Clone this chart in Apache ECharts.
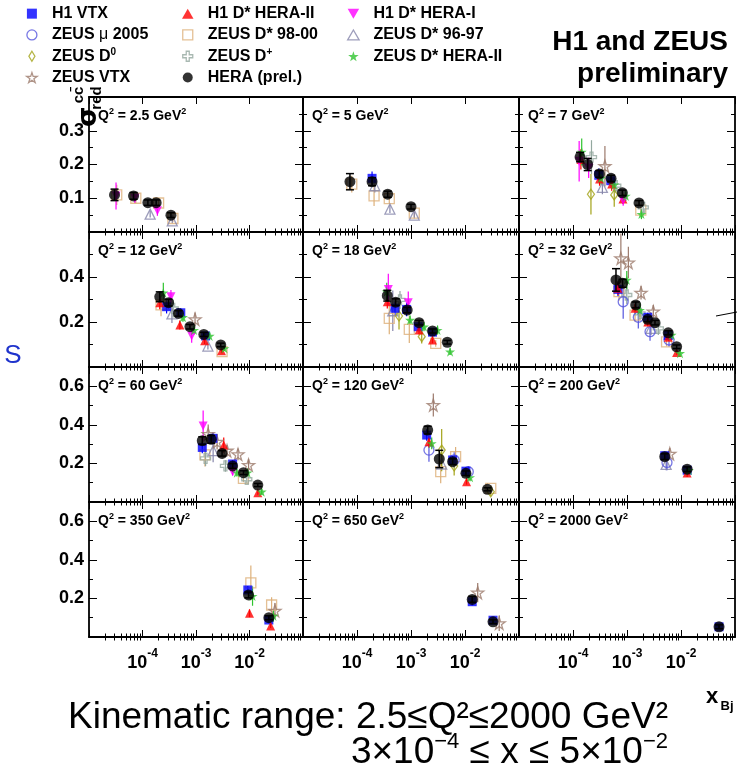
<!DOCTYPE html>
<html><head><meta charset="utf-8">
<script src="https://cdn.jsdelivr.net/npm/echarts@6/dist/echarts.min.js"></script>
<style>html,body{margin:0;padding:0;background:#fff}#c{width:737px;height:772px}</style>
</head><body><div id="c"></div>
<script>
// ---------------- DATA ----------------
// Q2 bins (GeV^2), one panel each
const Q2_BINS = [2.5, 5, 7, 12, 18, 32, 60, 120, 200, 350, 650, 2000];
// x-axis decade labels (exponents)
const X_LABEL_EXP = [-4, -3, -2];
// each point: [Q2, x_Bj, sigma_red, error]
const HERA_PREL = [
  [2.5,3.0e-5,0.110,0.017],[2.5,6.8e-5,0.107,0.010],[2.5,1.26e-4,0.087,0.008],[2.5,1.8e-4,0.087,0.008],[2.5,3.4e-4,0.050,0.007],
  [5,7.4e-5,0.149,0.024],[5,1.9e-4,0.149,0.012],[5,3.7e-4,0.112,0.009],[5,1.0e-3,0.075,0.007],
  [7,1.35e-4,0.222,0.014],[7,1.87e-4,0.200,0.018],[7,3.07e-4,0.172,0.010],[7,5.06e-4,0.159,0.009],[7,8.2e-4,0.116,0.008],[7,1.67e-3,0.086,0.007],
  [12,2.1e-4,0.312,0.022],[12,3.07e-4,0.286,0.015],[12,4.7e-4,0.238,0.012],[12,7.7e-4,0.179,0.010],[12,1.4e-3,0.145,0.009],[12,2.9e-3,0.098,0.008],
  [18,3.64e-4,0.317,0.024],[18,5.2e-4,0.288,0.015],[18,8.5e-4,0.253,0.012],[18,1.41e-3,0.197,0.010],[18,2.5e-3,0.160,0.009],[18,4.7e-3,0.110,0.008],
  [32,6.25e-4,0.387,0.050],[32,8.3e-4,0.372,0.018],[32,1.45e-3,0.276,0.013],[32,2.42e-3,0.212,0.011],[32,3.3e-3,0.197,0.010],[32,5.8e-3,0.152,0.009],[32,8.3e-3,0.090,0.008],
  [60,1.31e-3,0.318,0.020],[60,1.92e-3,0.325,0.020],[60,3.07e-3,0.252,0.014],[60,4.84e-3,0.187,0.012],[60,7.7e-3,0.152,0.010],[60,1.43e-2,0.088,0.008],
  [120,2.04e-3,0.373,0.020],[120,3.34e-3,0.223,0.045],[120,5.9e-3,0.209,0.015],[120,1.04e-2,0.149,0.012],[120,2.6e-2,0.066,0.008],
  [200,5.0e-3,0.235,0.015],[200,1.3e-2,0.170,0.012],
  [350,9.6e-3,0.218,0.015],[350,2.3e-2,0.100,0.010],
  [650,1.36e-2,0.195,0.015],[650,3.3e-2,0.079,0.010],
  [2000,5.06e-2,0.053,0.010]
];
const H1_VTX = [
  [5,1.9e-4,0.159,0.02],[7,3.0e-4,0.168,0.02],[7,5.0e-4,0.152,0.015],
  [12,2.82e-4,0.268,0.03],[12,5.2e-4,0.241,0.02],[12,1.51e-3,0.138,0.015],
  [18,5.06e-4,0.261,0.03],[18,8.3e-4,0.256,0.03],[18,1.36e-3,0.179,0.02],[18,2.5e-3,0.155,0.015],
  [32,6.8e-4,0.345,0.03],[32,2.42e-3,0.221,0.02],[32,5.8e-3,0.140,0.015],
  [60,1.31e-3,0.283,0.03],[60,2.07e-3,0.330,0.03],[60,4.84e-3,0.197,0.02],
  [120,1.95e-3,0.347,0.03],[120,5.9e-3,0.218,0.02],[120,1.04e-2,0.160,0.02],
  [200,5.0e-3,0.240,0.02],[200,1.3e-2,0.165,0.02],
  [350,9.3e-3,0.244,0.02],[350,2.3e-2,0.088,0.015],
  [650,1.36e-2,0.183,0.02],[650,3.3e-2,0.087,0.015],
  [2000,5.06e-2,0.053,0.01]
];
const ZEUS_MU_2005 = [
  [32,8.5e-4,0.290,0.075],[32,1.62e-3,0.221,0.05],[32,2.67e-3,0.157,0.04],[32,6.0e-3,0.120,0.03],
  [120,2.15e-3,0.269,0.06],[120,6.3e-3,0.218,0.04],[120,1.15e-2,0.157,0.03],
  [200,5.5e-3,0.205,0.04]
];
const ZEUS_D0 = [
  [7,2.15e-4,0.112,0.06],[7,5.8e-4,0.110,0.035],
  [18,6.0e-4,0.227,0.06],[18,1.58e-3,0.135,0.03],
  [120,3.7e-3,0.269,0.11],[120,6.3e-3,0.187,0.05],[120,3.0e-2,0.053,0.02]
];
const ZEUS_VTX = [
  [7,3.9e-4,0.195,0.06],[12,9.6e-4,0.212,0.03],
  [32,7.7e-4,0.483,0.11],[32,1.06e-3,0.464,0.07],[32,1.82e-3,0.330,0.03],[32,3.07e-3,0.246,0.03],
  [60,1.69e-3,0.352,0.05],[60,2.48e-3,0.312,0.04],[60,3.8e-3,0.266,0.03],[60,6.1e-3,0.247,0.03],[60,9.6e-3,0.192,0.03],
  [120,2.59e-3,0.503,0.06],
  [200,6.2e-3,0.250,0.03],
  [350,2.99e-2,0.136,0.04],
  [650,1.72e-2,0.230,0.05],[650,4.3e-2,0.071,0.04]
];
const H1_DSTAR_HERA2 = [
  [7,1.4e-4,0.215,0.03],[7,3.1e-4,0.157,0.02],[7,5.2e-4,0.142,0.02],[7,8.4e-4,0.098,0.015],
  [12,2.1e-4,0.286,0.03],[12,4.99e-4,0.187,0.02],[12,1.45e-3,0.117,0.015],[12,3.0e-3,0.072,0.01],
  [18,3.64e-4,0.290,0.03],[18,1.41e-3,0.164,0.02],[18,2.5e-3,0.120,0.015],
  [32,6.8e-4,0.350,0.03],[32,1.41e-3,0.261,0.02],[32,2.42e-3,0.200,0.02],[32,5.8e-3,0.132,0.015],[32,8.3e-3,0.064,0.01],
  [60,3.3e-3,0.295,0.04],[60,1.43e-2,0.048,0.01],
  [120,2.15e-3,0.312,0.03],[120,1.07e-2,0.105,0.015],
  [200,1.3e-2,0.150,0.02],
  [350,1.0e-2,0.123,0.02],[350,2.48e-2,0.057,0.01]
];
const ZEUS_DSTAR_9800 = [
  [2.5,3.3e-5,0.110,0.03],[2.5,7.5e-5,0.100,0.015],[2.5,2.0e-4,0.086,0.01],[2.5,3.7e-4,0.040,0.01],
  [5,8.0e-5,0.142,0.025],[5,2.07e-4,0.107,0.03],[5,3.96e-4,0.099,0.015],[5,1.15e-3,0.056,0.012],
  [7,1.8e-3,0.065,0.01],
  [12,2.22e-4,0.276,0.05],[12,3.07e-3,0.068,0.01],
  [18,3.96e-4,0.216,0.07],[18,9.3e-4,0.167,0.06],[18,2.87e-3,0.105,0.015],
  [32,7.1e-4,0.335,0.04],[32,1.41e-3,0.231,0.03],[32,5.4e-3,0.112,0.02],
  [60,1.47e-3,0.244,0.06],[60,7.7e-3,0.123,0.02],
  [120,3.55e-3,0.157,0.06],[120,6.7e-3,0.235,0.05],[120,3.0e-2,0.071,0.015],
  [350,1.06e-2,0.281,0.09],[350,2.59e-2,0.166,0.04]
];
const ZEUS_DPLUS = [
  [7,2.2e-4,0.222,0.05],[7,6.2e-4,0.137,0.02],[7,2.0e-3,0.073,0.015],
  [12,3.75e-4,0.260,0.04],
  [18,6.25e-4,0.298,0.04],
  [32,9.9e-4,0.320,0.04],[32,1.74e-3,0.238,0.03],[32,3.8e-3,0.172,0.03],
  [60,1.51e-3,0.226,0.04],[60,3.55e-3,0.187,0.03],[60,8.9e-3,0.118,0.02]
];
const H1_DSTAR_HERA1 = [
  [2.5,3.2e-5,0.107,0.04],[2.5,7.2e-5,0.100,0.015],[2.5,1.9e-4,0.063,0.015],
  [7,1.3e-4,0.210,0.06],[7,1.95e-4,0.190,0.03],[7,8.5e-4,0.093,0.015],
  [12,3.4e-4,0.312,0.03],[12,8.3e-4,0.138,0.03],
  [18,3.8e-4,0.345,0.07],[18,8.9e-4,0.286,0.05],
  [60,1.36e-3,0.394,0.08],[60,4.84e-3,0.157,0.02]
];
const ZEUS_DSTAR_9697 = [
  [2.5,1.39e-4,0.053,0.01],[2.5,3.6e-4,0.033,0.008],
  [5,2.14e-4,0.137,0.02],[5,4.07e-4,0.068,0.012],[5,1.15e-3,0.050,0.01],
  [7,3.5e-4,0.132,0.02],
  [12,3.55e-4,0.236,0.04],[12,1.67e-3,0.093,0.015],
  [18,4.6e-4,0.250,0.09],
  [32,2.78e-3,0.172,0.03],
  [60,2.09e-3,0.266,0.06],
  [120,3.7e-3,0.197,0.03],
  [200,5.3e-3,0.195,0.03]
];
const ZEUS_DSTAR_HERA2 = [
  [7,1.45e-4,0.237,0.04],[7,3.3e-4,0.160,0.02],[7,5.8e-4,0.140,0.02],[7,9.5e-4,0.107,0.015],[7,1.85e-3,0.053,0.015],
  [12,2.45e-4,0.330,0.045],[12,5.7e-4,0.221,0.02],[12,9.2e-4,0.164,0.02],[12,1.8e-3,0.138,0.015],[12,3.4e-3,0.083,0.012],
  [18,3.55e-4,0.335,0.04],[18,9.6e-4,0.209,0.02],[18,1.74e-3,0.179,0.02],[18,3.1e-3,0.164,0.02],[18,5.3e-3,0.068,0.015],
  [32,9.9e-4,0.387,0.04],[32,1.74e-3,0.253,0.03],[32,6.7e-3,0.142,0.02],[32,9.6e-3,0.061,0.015],
  [60,5.8e-3,0.152,0.02],[60,9.2e-3,0.152,0.02],[60,1.69e-2,0.053,0.015],
  [120,2.42e-3,0.304,0.03],[120,1.24e-2,0.128,0.02],
  [200,1.4e-2,0.165,0.02],
  [350,1.14e-2,0.212,0.05],[350,2.8e-2,0.109,0.03]
];

// ---------------- STYLE / LAYOUT ----------------
const FONT = '"Liberation Sans", Arial, Helvetica, sans-serif';
const ROW_Y = [97, 232, 367, 502], ROW_H = 135;
const COL_X = [89, 303, 519], COL_W = [214, 216, 216];
const Y_MAX = [0.4, 0.6, 0.7, 0.7], Y_STEP = [0.1, 0.2, 0.2, 0.2];
const X_MIN = 1e-5, X_MAX = 1e-1;

const SQUARE = 'path://M0,0L100,0L100,100L0,100Z';
const TRI = 'path://M50,0L100,87L0,87Z';
const ITRI = 'path://M0,0L100,0L50,87Z';
const DIAM = 'path://M30,0L60,50L30,100L0,50Z';
const STAR = 'path://M50,0L61.2,34.5L97.6,34.5L68.2,55.9L79.4,90.5L50,69.1L20.6,90.5L31.8,55.9L2.4,34.5L38.8,34.5Z';
const CROSS = 'path://M35,0L65,0L65,35L100,35L100,65L65,65L65,100L35,100L35,65L0,65L0,35L35,35Z';

const SETS = [
  {name:'ZEUS D* 98-00', data:ZEUS_DSTAR_9800, symbol:SQUARE, size:10, color:'#ddb07a', hollow:true},
  {name:'ZEUS D* 96-97', data:ZEUS_DSTAR_9697, symbol:TRI, size:10, color:'#8585aa', hollow:true},
  {name:'ZEUS D⁺', data:ZEUS_DPLUS, symbol:CROSS, size:10, color:'#93a89f', hollow:true},
  {name:'ZEUS μ 2005', data:ZEUS_MU_2005, symbol:'circle', size:10, color:'#5555dd', hollow:true},
  {name:'ZEUS D⁰', data:ZEUS_D0, symbol:DIAM, size:[7,10], color:'#a3a318', hollow:true},
  {name:'ZEUS VTX', data:ZEUS_VTX, symbol:STAR, size:12, color:'#9c7a6c', hollow:true},
  {name:'H1 VTX', data:H1_VTX, symbol:SQUARE, size:9, color:'#0000ff'},
  {name:'H1 D* HERA-II', data:H1_DSTAR_HERA2, symbol:TRI, size:9, color:'#ff0000'},
  {name:'H1 D* HERA-I', data:H1_DSTAR_HERA1, symbol:ITRI, size:9, color:'#ff00ff'},
  {name:'ZEUS D* HERA-II', data:ZEUS_DSTAR_HERA2, symbol:STAR, size:10, color:'#2fc42f'},
  {name:'HERA (prel.)', data:HERA_PREL, symbol:'circle', size:11, color:'#000000', caps:true}
];

// minor log ticks (log10 positions)
const MINOR_LOG = [];
for (let d = -5; d < -1; d++) for (let k = 2; k <= 9; k++) MINOR_LOG.push(Math.log10(k) + d);

const grids = [], xAxes = [], yAxes = [];
const frameLine = {show:true, onZero:false, lineStyle:{color:'#000', width:1.8}};
const tickStyle = {color:'#000', width:1};
for (let i = 0; i < 12; i++) {
  const r = Math.floor(i / 3), c = i % 3;
  grids.push({left:COL_X[c], top:ROW_Y[r], width:COL_W[c], height:ROW_H, containLabel:false, outerBoundsMode:'none', show:false});
  const xLabel = r === 3 ? {
    show:true, margin:11,
    formatter: v => { const e = Math.round(Math.log10(v)); return X_LABEL_EXP.indexOf(e) >= 0 ? '{b|10}{s|' + e + '}' : ''; },
    rich:{
      b:{fontSize:18, fontWeight:'bold', fontFamily:FONT, color:'#000', verticalAlign:'bottom', lineHeight:24},
      s:{fontSize:12, fontWeight:'bold', fontFamily:FONT, color:'#000', verticalAlign:'top', lineHeight:12}
    }
  } : {show:false};
  ['bottom','top'].forEach((pos, k) => {
    xAxes.push({type:'log', logBase:10, gridIndex:i, position:pos, min:X_MIN, max:X_MAX,
      axisLine:frameLine, axisTick:{show:true, inside:true, length:7, lineStyle:tickStyle},
      splitLine:{show:false}, minorTick:{show:false},
      axisLabel: k === 0 ? xLabel : {show:false}});
    xAxes.push({type:'value', gridIndex:i, position:pos, min:-5, max:-1,
      axisLine:{show:false}, axisTick:{show:true, inside:true, length:3.5, customValues:MINOR_LOG, lineStyle:tickStyle},
      splitLine:{show:false}, axisLabel:{show:false}});
  });
  ['left','right'].forEach((pos, k) => {
    yAxes.push({type:'value', gridIndex:i, position:pos, min:0, max:Y_MAX[r], interval:Y_STEP[r],
      axisLine:frameLine, axisTick:{show:true, inside:true, length:8, lineStyle:tickStyle},
      minorTick:{show:true, splitNumber:2, length:4, lineStyle:tickStyle},
      splitLine:{show:false}, minorSplitLine:{show:false},
      axisLabel: (k === 0 && c === 0) ? {show:true, margin:5, fontSize:18, fontWeight:'bold', fontFamily:FONT, color:'#000',
        formatter: v => (v < 0.05 || v > Y_MAX[r] - 0.05) ? '' : v.toFixed(1)} : {show:false}});
  });
}

function errRender(color, caps) {
  return function (params, api) {
    const x = api.value(0);
    const a = api.coord([x, api.value(1)]);
    const b = api.coord([x, api.value(2)]);
    const st = {stroke:color, lineWidth: caps ? 1.5 : 1.2};
    const ch = [{type:'line', shape:{x1:a[0], y1:a[1], x2:b[0], y2:b[1]}, style:st}];
    if (caps) {
      ch.push({type:'line', shape:{x1:a[0]-4, y1:a[1], x2:a[0]+4, y2:a[1]}, style:st});
      ch.push({type:'line', shape:{x1:b[0]-4, y1:b[1], x2:b[0]+4, y2:b[1]}, style:st});
    }
    return {type:'group', children:ch};
  };
}

const series = [];
SETS.forEach((s) => {
  const isHera = !!s.caps;
  Q2_BINS.forEach((q, pi) => {
    const pts = s.data.filter(p => p[0] === q);
    if (!pts.length) return;
    series.push({type:'custom', name:s.name + ' error', xAxisIndex:pi*4, yAxisIndex:pi*2, silent:true, clip:true,
      z: isHera ? 5 : 2, encode:{x:0, y:[1,2]},
      renderItem: errRender(s.color, isHera),
      data: pts.map(p => [p[1], p[2] - p[3], p[2] + p[3]])});
    series.push({type:'scatter', name:s.name, xAxisIndex:pi*4, yAxisIndex:pi*2, silent:true,
      z: isHera ? 6 : 3, symbol:s.symbol, symbolSize:s.size,
      itemStyle: s.hollow ? {color:'rgba(0,0,0,0)', borderColor:s.color, borderWidth:1.3} : {color:s.color, borderWidth:0},
      data: pts.map(p => [p[1], p[2]])});
  });
});

function legendItem(name) {
  const s = SETS.find(t => t.name === name);
  return {name, itemStyle: s.hollow ? {color:'rgba(0,0,0,0)', borderColor:s.color, borderWidth:1.3} : {color:s.color, borderWidth:0}};
}
const legendText = {
  fontFamily:FONT, fontSize:16, fontWeight:'bold', color:'#000', lineHeight:21.3,
  rich:{
    n:{fontFamily:FONT, fontSize:16, fontWeight:'bold', color:'#000', lineHeight:21.3},
    m:{fontFamily:FONT, fontSize:16, fontWeight:'normal', color:'#000', lineHeight:21.3},
    s:{fontFamily:FONT, fontSize:10, fontWeight:'bold', color:'#000', verticalAlign:'top', lineHeight:10, padding:[2,0,0,0]}
  }
};
function legendFmt(name) {
  if (name === 'ZEUS D⁰') return '{n|ZEUS D}{s|0}';
  if (name === 'ZEUS D⁺') return '{n|ZEUS D}{s|+}';
  if (name === 'ZEUS μ 2005') return '{n|ZEUS }{m|μ}{n| 2005}';
  return '{n|' + name + '}';
}
const LEGEND_COLS = [
  ['H1 VTX','ZEUS μ 2005','ZEUS D⁰','ZEUS VTX'],
  ['H1 D* HERA-II','ZEUS D* 98-00','ZEUS D⁺','HERA (prel.)'],
  ['H1 D* HERA-I','ZEUS D* 96-97','ZEUS D* HERA-II']
];
const LEGEND_LEFT = [26, 182, 347];
const legends = LEGEND_COLS.map((names, k) => ({
  orient:'vertical', left:LEGEND_LEFT[k], top:3, itemGap:0, itemWidth:30, itemHeight:10,
  symbolKeepAspect:true, selectedMode:false, padding:0,
  data:names.map(legendItem), formatter:legendFmt, textStyle:legendText
}));

const C = {align:'center', verticalAlign:'middle', textAlign:'center', textVerticalAlign:'middle'};
const graphic = [];
graphic.push({type:'text', x:728, y:42, style:{text:'H1 and ZEUS', font:'bold 28px ' + FONT, fill:'#000', align:'right', verticalAlign:'middle', textAlign:'right', textVerticalAlign:'middle'}});
graphic.push({type:'text', x:728, y:74, style:{text:'preliminary', font:'bold 28px ' + FONT, fill:'#000', align:'right', verticalAlign:'middle', textAlign:'right', textVerticalAlign:'middle'}});
Q2_BINS.forEach((q, i) => {
  const r = Math.floor(i / 3), c = i % 3;
  graphic.push({type:'text', x:COL_X[c] + 9, y:ROW_Y[r] + 18, z:20, style:{
    text:'{b|Q}{s|2}{b| = ' + q + ' GeV}{s|2}', align:'left', verticalAlign:'middle', textVerticalAlign:'middle',
    rich:{b:{fontFamily:FONT, fontSize:14, fontWeight:'bold', fill:'#000', color:'#000', lineHeight:16, verticalAlign:'bottom'},
          s:{fontFamily:FONT, fontSize:9, fontWeight:'bold', fill:'#000', color:'#000', lineHeight:9, verticalAlign:'top'}}}});
});
// y-axis title sigma_red^{c cbar}, rotated
graphic.push({type:'text', x:89, y:117, z:30, rotation:Math.PI/2, style:Object.assign({text:'σ', font:'bold 26px "DejaVu Sans", sans-serif', fill:'#000'}, C)});
graphic.push({type:'text', x:79, y:95, z:30, rotation:Math.PI/2, style:Object.assign({text:'cc̄', font:'bold 15px ' + FONT, fill:'#000'}, C)});
graphic.push({type:'text', x:97, y:98, z:30, rotation:Math.PI/2, style:Object.assign({text:'red', font:'bold 15px ' + FONT, fill:'#000'}, C)});
// x-axis title
graphic.push({type:'text', x:712, y:697, style:Object.assign({text:'x', font:'bold 22px ' + FONT, fill:'#000'}, C)});
graphic.push({type:'text', x:727, y:706, style:Object.assign({text:'Bj', font:'bold 13px ' + FONT, fill:'#000'}, C)});
// stray slide letter
graphic.push({type:'text', x:13, y:356, style:Object.assign({text:'S', font:'26px ' + FONT, fill:'#1f33cc'}, C)});
// stray short line on the right edge
graphic.push({type:'line', shape:{x1:716, y1:316, x2:737, y2:312}, style:{stroke:'#000', lineWidth:1}});
// kinematic range text
graphic.push({type:'text', x:668, y:718, style:{text:'Kinematic range: 2.5≤Q²≤2000 GeV²', font:'37px ' + FONT, fill:'#000', align:'right', verticalAlign:'middle', textAlign:'right', textVerticalAlign:'middle'}});
graphic.push({type:'text', x:668, y:751, style:{
  text:'{b|3×10}{s|−4}{b| ≤ x ≤ 5×10}{s|−2}', align:'right', verticalAlign:'middle', textAlign:'right', textVerticalAlign:'middle',
  rich:{b:{fontFamily:FONT, fontSize:37, fill:'#000', color:'#000', lineHeight:40, verticalAlign:'bottom'},
        s:{fontFamily:FONT, fontSize:22, fill:'#000', color:'#000', lineHeight:22, verticalAlign:'top'}}}});

const chart = echarts.init(document.getElementById('c'), null, {renderer:'canvas'});
chart.setOption({
  animation:false, backgroundColor:'#fff',
  textStyle:{fontFamily:FONT},
  grid:grids, xAxis:xAxes, yAxis:yAxes, legend:legends, series, graphic
});
</script></body></html>
